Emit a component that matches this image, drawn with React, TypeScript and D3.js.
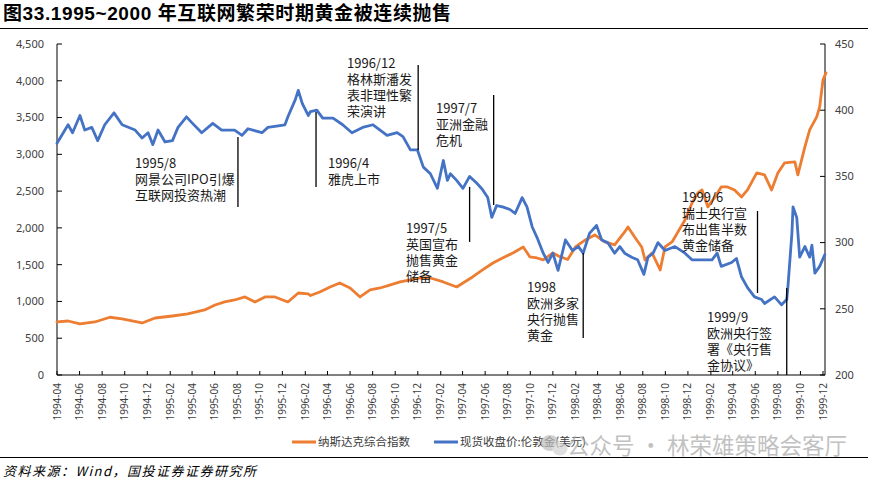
import * as d3 from "d3";

const width = 876;
const height = 484;
const plot = { left: 57, right: 825, xEnd: 823, top: 44, bottom: 375 };

const title = "图33.1995~2000 年互联网繁荣时期黄金被连续抛售";
const source = "资料来源：Wind，国投证券证券研究所";
const watermark = "公众号 · 林荣雄策略会客厅";

const nasdaqName = "纳斯达克综合指数";
const goldName = "现货收盘价:伦敦金(美元)";

const leftTicks = [0, 500, 1000, 1500, 2000, 2500, 3000, 3500, 4000, 4500];
const rightTicks = [200, 250, 300, 350, 400, 450];

// 纳斯达克综合指数 (left axis)
const nasdaq: [string, number][] = [
  ["1994-04-01", 721], ["1994-05-01", 734], ["1994-06-02", 694], ["1994-07-12", 721],
  ["1994-08-22", 785], ["1994-09-24", 762], ["1994-11-17", 707], ["1994-12-22", 775],
  ["1995-02-07", 802], ["1995-03-20", 830], ["1995-05-05", 884], ["1995-06-02", 952],
  ["1995-06-28", 993], ["1995-07-25", 1020], ["1995-08-22", 1061], ["1995-09-18", 993],
  ["1995-10-15", 1061], ["1995-11-11", 1061], ["1995-12-16", 993], ["1996-01-13", 1115],
  ["1996-02-09", 1102], ["1996-02-15", 1080], ["1996-03-11", 1129], ["1996-04-08", 1197],
  ["1996-05-04", 1251], ["1996-06-01", 1183], ["1996-06-28", 1061], ["1996-07-25", 1156],
  ["1996-08-21", 1183], ["1996-09-18", 1224], ["1996-10-14", 1265], ["1996-11-11", 1292],
  ["1996-12-08", 1319], ["1997-01-04", 1319], ["1997-02-08", 1265], ["1997-03-16", 1197],
  ["1997-04-02", 1251], ["1997-04-28", 1333], ["1997-05-25", 1428], ["1997-06-22", 1523],
  ["1997-07-18", 1591], ["1997-08-15", 1659], ["1997-09-12", 1741], ["1997-09-30", 1605],
  ["1997-10-19", 1591], ["1997-11-05", 1564], ["1997-12-01", 1659], ["1997-12-15", 1620],
  ["1998-01-10", 1570], ["1998-01-31", 1741], ["1998-02-27", 1836], ["1998-03-24", 1904],
  ["1998-04-20", 1809], ["1998-05-17", 1768], ["1998-06-13", 1945], ["1998-06-22", 2013],
  ["1998-07-10", 1877], ["1998-07-29", 1741], ["1998-08-07", 1564], ["1998-08-26", 1659],
  ["1998-09-17", 1428], ["1998-09-30", 1741], ["1998-10-19", 1809], ["1998-11-04", 1945],
  ["1998-11-23", 2108], ["1998-12-12", 2339], ["1998-12-28", 2475], ["1999-01-08", 2516],
  ["1999-01-24", 2285], ["1999-02-12", 2421], ["1999-03-01", 2557], ["1999-03-18", 2557],
  ["1999-04-06", 2516], ["1999-04-25", 2421], ["1999-05-11", 2516], ["1999-06-05", 2747],
  ["1999-06-26", 2720], ["1999-07-15", 2516], ["1999-08-01", 2747], ["1999-08-19", 2883],
  ["1999-09-16", 2897], ["1999-09-24", 2720], ["1999-10-13", 3101], ["1999-10-26", 3332],
  ["1999-11-14", 3509], ["1999-11-22", 3645], ["1999-12-01", 4012], ["1999-12-09", 4107],
];

// 现货收盘价:伦敦金 (right axis)
const gold: [string, number][] = [
  ["1994-04-01", 375], ["1994-05-01", 389], ["1994-05-13", 383], ["1994-06-02", 396],
  ["1994-06-15", 385], ["1994-07-04", 387], ["1994-07-20", 377], ["1994-08-08", 389],
  ["1994-09-02", 398], ["1994-09-24", 389], ["1994-10-29", 385], ["1994-11-17", 379],
  ["1994-12-03", 383], ["1994-12-16", 374], ["1994-12-30", 385], ["1995-01-18", 376],
  ["1995-02-07", 377], ["1995-02-22", 387], ["1995-03-17", 395], ["1995-03-30", 391],
  ["1995-04-27", 383], ["1995-05-27", 390], ["1995-06-20", 385], ["1995-07-25", 385],
  ["1995-08-14", 381], ["1995-08-30", 386], ["1995-10-07", 383], ["1995-10-23", 387],
  ["1995-12-08", 389], ["1995-12-16", 395], ["1996-01-05", 408], ["1996-01-13", 415],
  ["1996-01-24", 405], ["1996-02-09", 396], ["1996-02-15", 399], ["1996-03-03", 400],
  ["1996-03-19", 394], ["1996-04-16", 394], ["1996-05-12", 389], ["1996-06-06", 383],
  ["1996-07-05", 387], ["1996-08-02", 389], ["1996-09-09", 381], ["1996-10-06", 383],
  ["1996-10-22", 380], ["1996-11-11", 370], ["1996-11-30", 370], ["1996-12-16", 357],
  ["1997-01-04", 352], ["1997-01-23", 341], ["1997-02-08", 362], ["1997-02-19", 347],
  ["1997-02-27", 352], ["1997-03-16", 347], ["1997-04-02", 341], ["1997-04-20", 350],
  ["1997-05-09", 345], ["1997-05-25", 340], ["1997-06-08", 334], ["1997-06-19", 319],
  ["1997-07-02", 328], ["1997-07-18", 327], ["1997-08-07", 325], ["1997-08-21", 322],
  ["1997-09-09", 334], ["1997-09-22", 327], ["1997-10-06", 312], ["1997-10-19", 304],
  ["1997-11-05", 292], ["1997-11-18", 285], ["1997-12-01", 292], ["1997-12-15", 279],
  ["1998-01-04", 302], ["1998-01-23", 294], ["1998-02-08", 297], ["1998-02-21", 292],
  ["1998-03-10", 307], ["1998-03-29", 313], ["1998-04-12", 302], ["1998-04-28", 300],
  ["1998-05-17", 292], ["1998-05-31", 297], ["1998-06-13", 292], ["1998-07-02", 289],
  ["1998-07-18", 287], ["1998-08-04", 276], ["1998-08-15", 289], ["1998-08-29", 292],
  ["1998-09-11", 300], ["1998-09-30", 294], ["1998-10-27", 297], ["1998-11-23", 292],
  ["1998-12-12", 287], ["1999-01-08", 287], ["1999-02-04", 287], ["1999-02-18", 292],
  ["1999-03-01", 282], ["1999-03-29", 285], ["1999-04-11", 288], ["1999-04-25", 274],
  ["1999-05-11", 266], ["1999-05-30", 259], ["1999-06-18", 257], ["1999-06-26", 254],
  ["1999-07-23", 259], ["1999-08-11", 253], ["1999-08-25", 257], ["1999-08-28", 266],
  ["1999-09-08", 307], ["1999-09-11", 327], ["1999-09-21", 319], ["1999-09-29", 289],
  ["1999-10-13", 297], ["1999-10-26", 289], ["1999-11-01", 298], ["1999-11-09", 277],
  ["1999-11-22", 282], ["1999-12-06", 291],
];

// event date, leader line span (left-axis values), text lines
const events: { date: string; from: number; to: number; lines: string[] }[] = [
  { date: "1995-08-03", from: 3237, to: 2285, lines: ["1995/8", "网景公司IPO引爆", "互联网投资热潮"] },
  { date: "1996-03-01", from: 3577, to: 2557, lines: ["1996/4", "雅虎上市"] },
  { date: "1996-12-02", from: 4216, to: 3060, lines: ["1996/12", "格林斯潘发", "表非理性繁", "荣演讲"] },
  { date: "1997-06-24", from: 3808, to: 2312, lines: ["1997/7", "亚洲金融", "危机"] },
  { date: "1997-04-20", from: 2557, to: 1809, lines: ["1997/5", "英国宣布", "抛售黄金", "储备"] },
  { date: "1998-02-21", from: 1659, to: 503, lines: ["1998", "欧洲多家", "央行抛售", "黄金"] },
  { date: "1999-06-07", from: 2230, to: 1115, lines: ["1999/6", "瑞士央行宣", "布出售半数", "黄金储备"] },
  { date: "1999-08-25", from: 1183, to: 0, lines: ["1999/9", "欧洲央行签", "署《央行售", "金协议》"] },
];

// text block positions (left x, first line centre y)
const eventTextPos = [
  [135, 163], [328, 163], [347, 63], [436, 108], [406, 228], [527, 287], [682, 197], [707, 317],
];

const parse = d3.timeParse("%Y-%m-%d");
const start = new Date(1994, 3, 1);
const end = new Date(1999, 11, 1);

const orange = "#ED7D31";
const blue = "#4472C4";
const cjk = "'Noto Sans CJK SC', 'Noto Sans', sans-serif";
const latin = "'Noto Sans', 'Noto Sans CJK SC', sans-serif";

export default function App() {
  const x = d3.scaleTime().domain([start, end]).range([plot.left, plot.xEnd]);
  const yLeft = d3.scaleLinear().domain([0, 4500]).range([plot.bottom, plot.top]);
  const yRight = d3.scaleLinear().domain([200, 450]).range([plot.bottom, plot.top]);
  const xTicks = d3.timeMonth.range(start, new Date(2000, 0, 1), 2);
  const fmtDate = d3.timeFormat("%Y-%m");
  const fmtLeft = d3.format(",");

  const nasdaqLine = d3
    .line<[string, number]>()
    .x((d) => x(parse(d[0]) as Date))
    .y((d) => yLeft(d[1]))(nasdaq);
  const goldLine = d3
    .line<[string, number]>()
    .x((d) => x(parse(d[0]) as Date))
    .y((d) => yRight(d[1]))(gold);

  return (
    <svg
      width={width}
      height={height}
      viewBox={`0 0 ${width} ${height}`}
      style={{ position: "absolute", left: 0, top: 0, background: "#fff", display: "block" }}
    >
      <rect width={width} height={height} fill="#fff" />
      <text x={3} y={20} fontSize={19} letterSpacing={0.6} fontWeight="bold" fill="#000" fontFamily="'Liberation Sans', 'Noto Sans CJK SC', sans-serif">
        {title}
      </text>
      <line x1={0} x2={868} y1={28.5} y2={28.5} stroke="#000" strokeWidth={1.2} />

      {/* left axis */}
      <line x1={plot.left} x2={plot.left} y1={plot.top} y2={plot.bottom} stroke="#000" />
      {leftTicks.map((t) => (
        <g key={`l-${t}`}>
          <line x1={plot.left} x2={plot.left + 5} y1={yLeft(t)} y2={yLeft(t)} stroke="#000" />
          <text x={plot.left - 13} y={yLeft(t)} dy="0.35em" textAnchor="end" fontSize={11} fill="#404040" fontFamily={latin}>
            {fmtLeft(t)}
          </text>
        </g>
      ))}

      {/* right axis */}
      <line x1={plot.right} x2={plot.right} y1={plot.top} y2={plot.bottom} stroke="#000" />
      {rightTicks.map((t) => (
        <g key={`r-${t}`}>
          <line x1={plot.right - 5} x2={plot.right} y1={yRight(t)} y2={yRight(t)} stroke="#000" />
          <text x={plot.right + 10} y={yRight(t)} dy="0.35em" fontSize={11} fill="#404040" fontFamily={latin}>
            {t}
          </text>
        </g>
      ))}

      {/* x axis */}
      <line x1={plot.left} x2={plot.right} y1={plot.bottom} y2={plot.bottom} stroke="#000" />
      {xTicks.map((t) => (
        <g key={t.toISOString()}>
          <line x1={x(t)} x2={x(t)} y1={plot.bottom - 4} y2={plot.bottom} stroke="#000" />
          <text
            transform={`translate(${x(t)}, ${plot.bottom + 8}) rotate(-90)`}
            dy="0.35em"
            textAnchor="end"
            fontSize={10}
            fill="#404040"
            fontFamily={latin}
          >
            {fmtDate(t)}
          </text>
        </g>
      ))}

      <path d={nasdaqLine ?? ""} fill="none" stroke={orange} strokeWidth={2.8} strokeLinejoin="round" strokeLinecap="round" />
      <path d={goldLine ?? ""} fill="none" stroke={blue} strokeWidth={2.8} strokeLinejoin="round" strokeLinecap="round" />

      {/* annotations */}
      {events.map((ev, i) => {
        const ex = x(parse(ev.date) as Date);
        const [tx, ty] = eventTextPos[i];
        return (
          <g key={ev.date}>
            <line x1={ex} x2={ex} y1={yLeft(ev.from)} y2={yLeft(ev.to)} stroke="#000" strokeWidth={1.3} />
            {ev.lines.map((ln, j) => (
              <text key={j} x={tx} y={ty + j * 16.3} dy="0.35em" fontSize={13} fill="#1a1a1a" fontFamily={cjk}>
                {ln}
              </text>
            ))}
          </g>
        );
      })}

      {/* legend */}
      <line x1={292} x2={316} y1={442} y2={442} stroke={orange} strokeWidth={3} />
      <text x={318} y={442} dy="0.35em" fontSize={11.5} fill="#404040" fontFamily={cjk}>
        {nasdaqName}
      </text>
      <line x1={434} x2={458} y1={442} y2={442} stroke={blue} strokeWidth={3} />
      <text x={460} y={442} dy="0.35em" fontSize={11.5} fill="#404040" fontFamily={cjk}>
        {goldName}
      </text>

      {/* watermark */}
      <g opacity={0.7}>
        <ellipse cx={550} cy={443} rx={9} ry={8} fill="#bdbdbd" />
        <ellipse cx={560} cy={449} rx={7.5} ry={6.5} fill="#d2d2d2" />
        <text x={567} y={446} dy="0.35em" fontSize={22.5} fill="#a8a8a8" fontFamily={cjk}>
          {watermark}
        </text>
      </g>

      <line x1={0} x2={868} y1={457.5} y2={457.5} stroke="#000" strokeWidth={1.2} />
      <text x={3} y={471} dy="0.35em" fontSize={13} letterSpacing={1.5} fontStyle="italic" fill="#000" fontFamily={cjk}>
        {source}
      </text>
    </svg>
  );
}
